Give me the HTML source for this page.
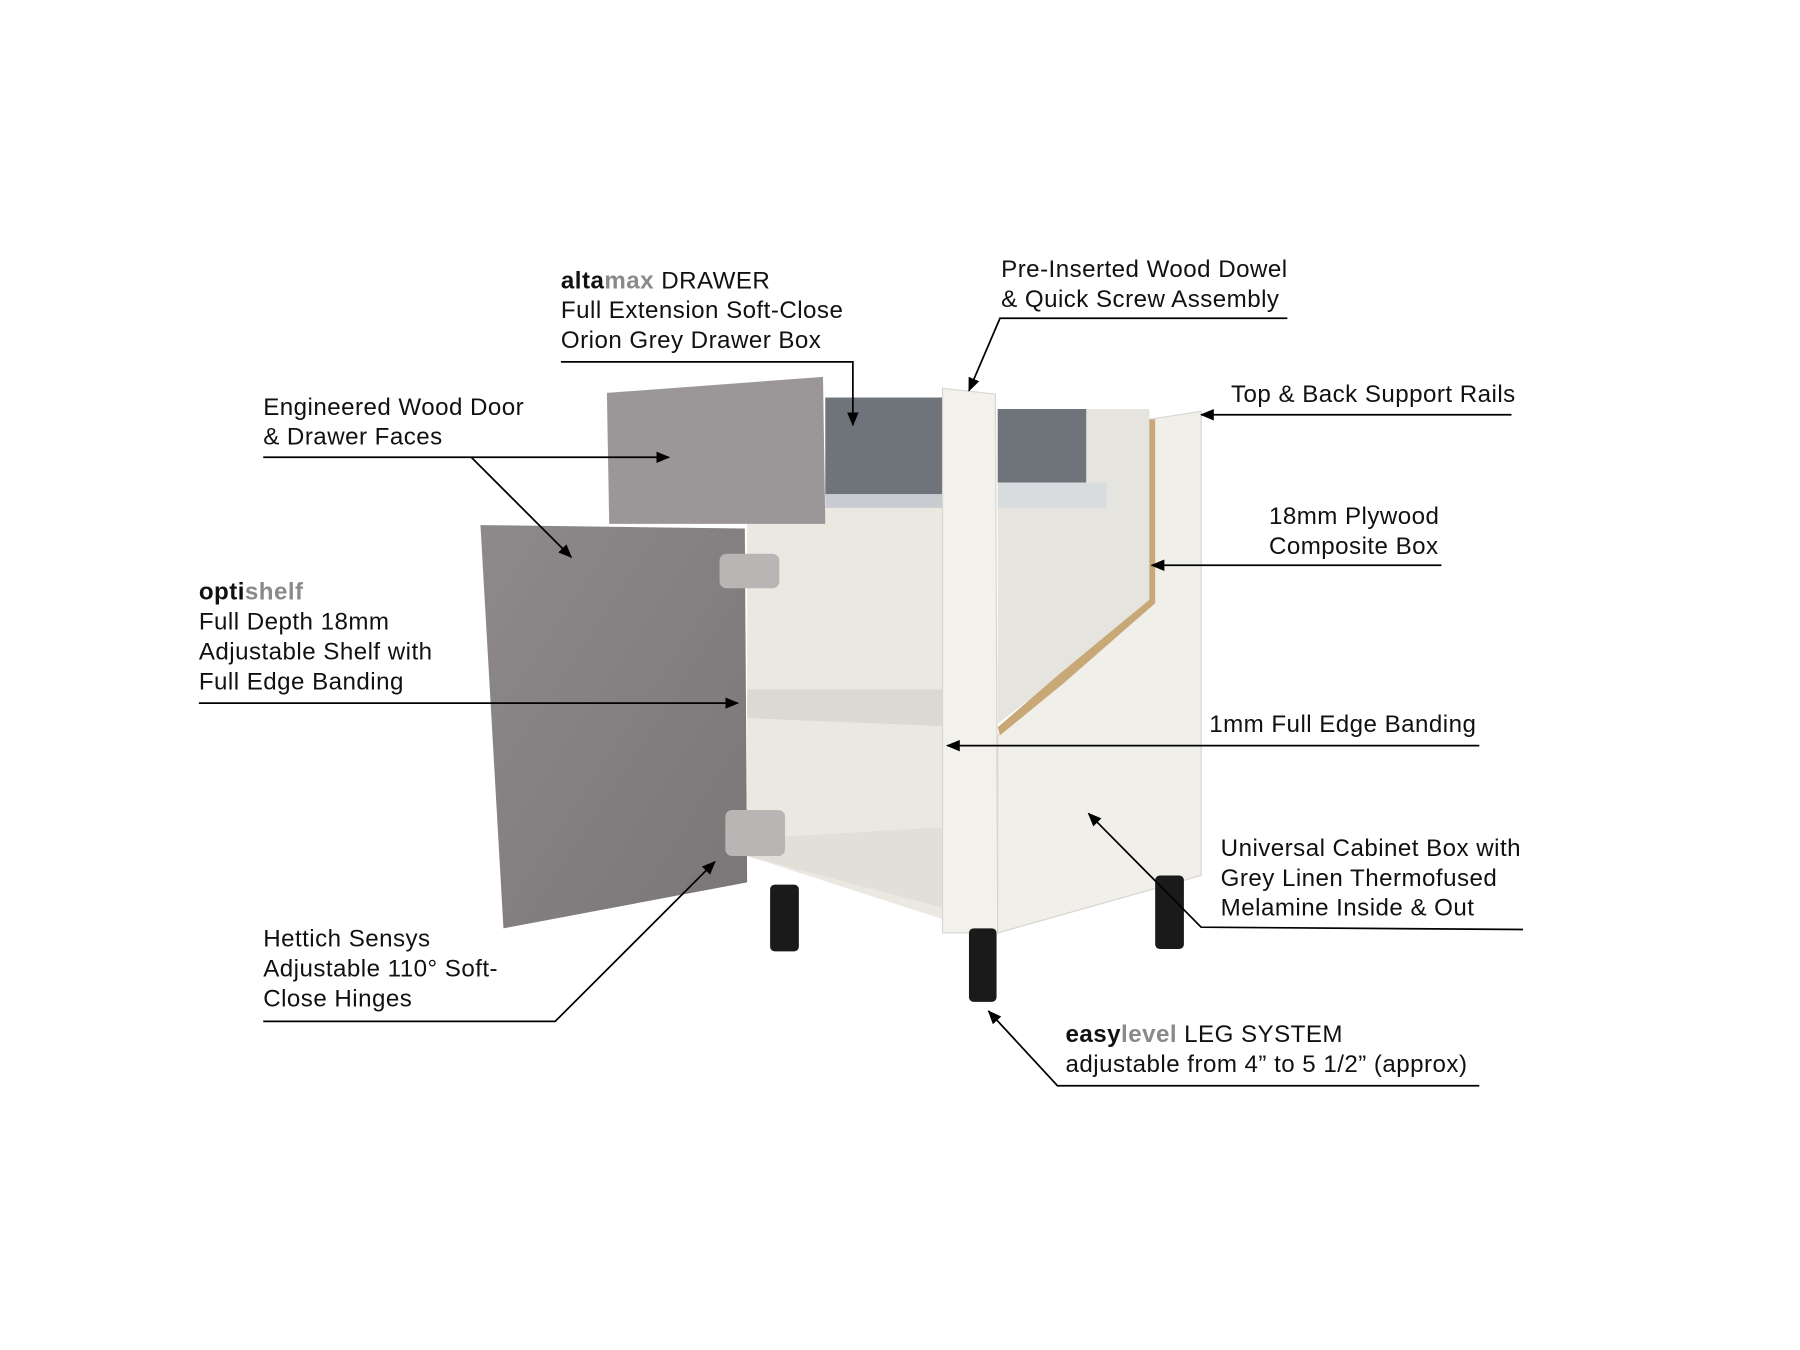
<!DOCTYPE html>
<html><head><meta charset="utf-8"><style>
html,body{margin:0;padding:0;background:#fff;}
svg{display:block;}
text{font-family:"Liberation Sans",sans-serif;font-size:21px;letter-spacing:0.4px;fill:#111;}
.b{font-weight:bold;}
.g{font-weight:bold;fill:#8a8a8a;}
</style></head><body>
<svg width="1800" height="1350" viewBox="0 0 1566 1175" preserveAspectRatio="none" xmlns="http://www.w3.org/2000/svg">
<defs>
<marker id="a" markerWidth="12" markerHeight="10" refX="11" refY="5" orient="auto" markerUnits="userSpaceOnUse">
<path d="M0,0 L12,5 L0,10 Z" fill="#000"/>
</marker>
<linearGradient id="wood" x1="0" y1="0" x2="1" y2="1">
<stop offset="0" stop-color="#8e8a8b"/><stop offset="1" stop-color="#7a7677"/>
</linearGradient>
</defs>
<rect width="1566" height="1175" fill="#fff"/>
<polygon points="650,440 820,440 820,800 650,745" fill="#ebe8e2"/>
<polygon points="650,600 820,600 820,632 650,625" fill="#dcd9d3"/>
<polygon points="650,730 820,720 820,790 650,745" fill="#e2dfd9"/>
<rect x="718" y="346" width="102" height="86" fill="#6f737a"/>
<rect x="718" y="430" width="102" height="12" fill="#c8ccd0"/>
<polygon points="528,342 716,328 718,456 530,456" fill="#9b9798"/>
<polygon points="418,457 648,460 650,768 438,808" fill="url(#wood)"/>
<rect x="626" y="482" width="52" height="30" rx="6" fill="#b8b6b4"/>
<rect x="631" y="705" width="52" height="40" rx="6" fill="#b8b6b4"/>
<polygon points="868,356 1000,356 1000,525 920,590 868,630" fill="#e6e4df"/>
<rect x="868" y="356" width="77" height="64" fill="#6f737a"/>
<rect x="868" y="420" width="95" height="22" fill="#d8dcde"/>
<polygon points="820,338 866,343 868,812 820,812" fill="#f3f1ec" stroke="#d8d5ce" stroke-width="1"/>
<polygon points="868,640 920,590 1000,525 1000,365 1045,358 1045,762 868,812" fill="#f1efea" stroke="#d8d5ce" stroke-width="1"/>
<polygon points="1000,365 1005,365 1005,525 925,595 870,640 868,633 920,588 1000,522" fill="#c9a878"/>
<rect x="670" y="770" width="25" height="58" rx="4" fill="#1a1a1a"/>
<rect x="843" y="808" width="24" height="64" rx="4" fill="#1a1a1a"/>
<rect x="1005" y="762" width="25" height="64" rx="4" fill="#1a1a1a"/>

<g stroke="#000" stroke-width="1.5" fill="none">
<polyline points="488,315 742,315 742,370" marker-end="url(#a)"/>
<polyline points="1120,277 870,277 843,340" marker-end="url(#a)"/>
<line x1="1315" y1="361" x2="1045" y2="361" marker-end="url(#a)"/>
<line x1="1254" y1="492" x2="1002" y2="492" marker-end="url(#a)"/>
<line x1="1287" y1="649" x2="824" y2="649" marker-end="url(#a)"/>
<polyline points="1325,809 1045,807 947,708" marker-end="url(#a)"/>
<polyline points="1287,945 920,945 860,880" marker-end="url(#a)"/>
<polyline points="229,889 483,889 622,750" marker-end="url(#a)"/>
<line x1="173" y1="612" x2="642" y2="612" marker-end="url(#a)"/>
<line x1="229" y1="398" x2="582" y2="398" marker-end="url(#a)"/>
<line x1="410" y1="398" x2="497" y2="485" marker-end="url(#a)"/>
</g>

<text x="488" y="251"><tspan class="b">alta</tspan><tspan class="g">max</tspan> DRAWER</text>
<text x="488" y="277">Full Extension Soft-Close</text>
<text x="488" y="303">Orion Grey Drawer Box</text>
<text x="871" y="241">Pre-Inserted Wood Dowel</text>
<text x="871" y="267">&amp; Quick Screw Assembly</text>
<text x="1071" y="350">Top &amp; Back Support Rails</text>
<text x="1104" y="456">18mm Plywood</text>
<text x="1104" y="482">Composite Box</text>
<text x="1052" y="637">1mm Full Edge Banding</text>
<text x="1062" y="745">Universal Cabinet Box with</text>
<text x="1062" y="771">Grey Linen Thermofused</text>
<text x="1062" y="797">Melamine Inside &amp; Out</text>
<text x="927" y="907"><tspan class="b">easy</tspan><tspan class="g">level</tspan> LEG SYSTEM</text>
<text x="927" y="933">adjustable from 4” to 5 1/2” (approx)</text>
<text x="229" y="824">Hettich Sensys</text>
<text x="229" y="850">Adjustable 110° Soft-</text>
<text x="229" y="876">Close Hinges</text>
<text x="173" y="522"><tspan class="b">opti</tspan><tspan class="g">shelf</tspan></text>
<text x="173" y="548">Full Depth 18mm</text>
<text x="173" y="574">Adjustable Shelf with</text>
<text x="173" y="600">Full Edge Banding</text>
<text x="229" y="361">Engineered Wood Door</text>
<text x="229" y="387">&amp; Drawer Faces</text>
</svg>
</body></html>
